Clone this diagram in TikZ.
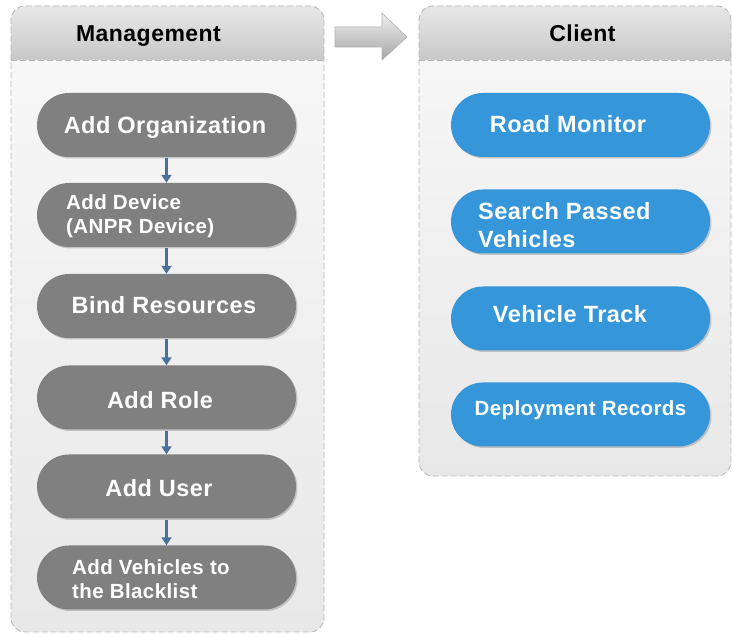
\documentclass[tikz,border=0pt]{standalone}
\usepackage{fontspec}
\setmainfont{Liberation Sans}[LetterSpace=2]
\usetikzlibrary{shapes.misc,shadows,arrows.meta}
\definecolor{pillgray}{HTML}{808080}
\definecolor{pillblue}{HTML}{3597DA}
\definecolor{connblue}{HTML}{4A7099}
\definecolor{bodytop}{HTML}{F8F8F8}
\definecolor{bodybot}{HTML}{E8E8E8}
\definecolor{hdrtop}{HTML}{E8E8E8}
\definecolor{hdrbot}{HTML}{C8C8C8}
\definecolor{edge}{HTML}{B8B8B8}
\tikzset{
  pill/.style={rounded rectangle, minimum width=259pt, minimum height=64pt, inner sep=0pt,
    drop shadow={shadow xshift=1.5pt, shadow yshift=-1.5pt, fill=black!40, opacity=.5}},
  graypill/.style={pill, fill=pillgray},
  bluepill/.style={pill, fill=pillblue},
  bigtxt/.style={text=white, font=\bfseries\fontsize{23.5}{28}\selectfont, inner sep=0pt, anchor=base},
  smalltxt/.style={text=white, font=\bfseries\fontsize{20.5}{24}\selectfont, inner sep=0pt, anchor=base},
  twotxt/.style={text=white, align=left, inner sep=0pt, anchor=west},
  hdrtxt/.style={text=black, font=\bfseries\fontsize{23}{28}\selectfont, inner sep=0pt, anchor=base},
  conn/.style={draw=connblue, line width=2.2pt, -{Triangle[width=10pt,length=8pt]}, shorten <=1pt},
  border/.style={draw=edge, line width=0.9pt, dash pattern=on 6pt off 3pt},
}
\begin{document}
\begin{tikzpicture}[x=1pt,y=1pt]
\useasboundingbox (0,0) rectangle (732,634);
\fill[white] (0,0) rectangle (732,634);

% ---------- Management panel ----------
\shade[top color=bodytop, bottom color=bodybot, rounded corners=14pt] (11,2) rectangle (324,628);
\shade[top color=hdrtop, bottom color=hdrbot] (11,574) [rounded corners=14pt] -- (11,628) -- (324,628) [sharp corners] -- (324,574) -- cycle;
\draw[border] (11,574) -- (324,574);
\draw[border, rounded corners=14pt] (11,2) rectangle (324,628);
\node[hdrtxt] (hm) at (148.5,592.5) {Management};

% ---------- Client panel ----------
\shade[top color=bodytop, bottom color=bodybot, rounded corners=14pt] (419,158) rectangle (731,628);
\shade[top color=hdrtop, bottom color=hdrbot] (419,574) [rounded corners=14pt] -- (419,628) -- (731,628) [sharp corners] -- (731,574) -- cycle;
\draw[border] (419,574) -- (731,574);
\draw[border, rounded corners=14pt] (419,158) rectangle (731,628);
\node[hdrtxt] (hc) at (582.5,592.5) {Client};

% ---------- block arrow ----------
\shade[top color=hdrtop!70!white, bottom color=black!35, draw=black!30, line width=0.6pt]
  (335,607) -- (382,607) -- (382,621) -- (407,597) -- (382,574) -- (382,587) -- (335,587) -- cycle;

% ---------- management steps ----------
\node[graypill] (g1) at (166.5,509) {};
\node[graypill] (g2) at (166.5,419) {};
\node[graypill] (g3) at (166.5,328) {};
\node[graypill] (g4) at (166.5,236.5) {};
\node[graypill] (g5) at (166.5,147.5) {};
\node[graypill] (g6) at (166.5,56.5) {};

\node[bigtxt] (t1) at (165,500.5) {Add Organization};
\node[twotxt, font=\bfseries\fontsize{20.5}{24}\selectfont] (t2) at (66,417.5) {Add Device\\(ANPR Device)};
\node[bigtxt] (t3) at (164,320.5) {Bind Resources};
\node[bigtxt] (t4) at (160,225) {Add Role};
\node[bigtxt] (t5) at (159,137.5) {Add User};
\node[twotxt, font=\bfseries\fontsize{20.5}{24}\selectfont] (t6) at (72,55) {Add Vehicles to\\the Blacklist};

\draw[conn] (g1.south) -- (g2.north);
\draw[conn] (g2.south) -- (g3.north);
\draw[conn] (g3.south) -- (g4.north);
\draw[conn] (g4.south) -- (g5.north);
\draw[conn] (g5.south) -- (g6.north);

% ---------- client functions ----------
\node[bluepill] (b1) at (580.5,509) {};
\node[bluepill] (b2) at (580.5,412.5) {};
\node[bluepill] (b3) at (580.5,315.5) {};
\node[bluepill] (b4) at (580.5,219.5) {};

\node[bigtxt] (u1) at (568,501.5) {Road Monitor};
\node[twotxt, font=\bfseries\fontsize{23.5}{28}\selectfont] (u2) at (478,408.5) {Search Passed\\Vehicles};
\node[bigtxt] (u3) at (570,311.5) {Vehicle Track};
\node[smalltxt] (u4) at (580.5,218.5) {Deployment Records};
\end{tikzpicture}
\end{document}
